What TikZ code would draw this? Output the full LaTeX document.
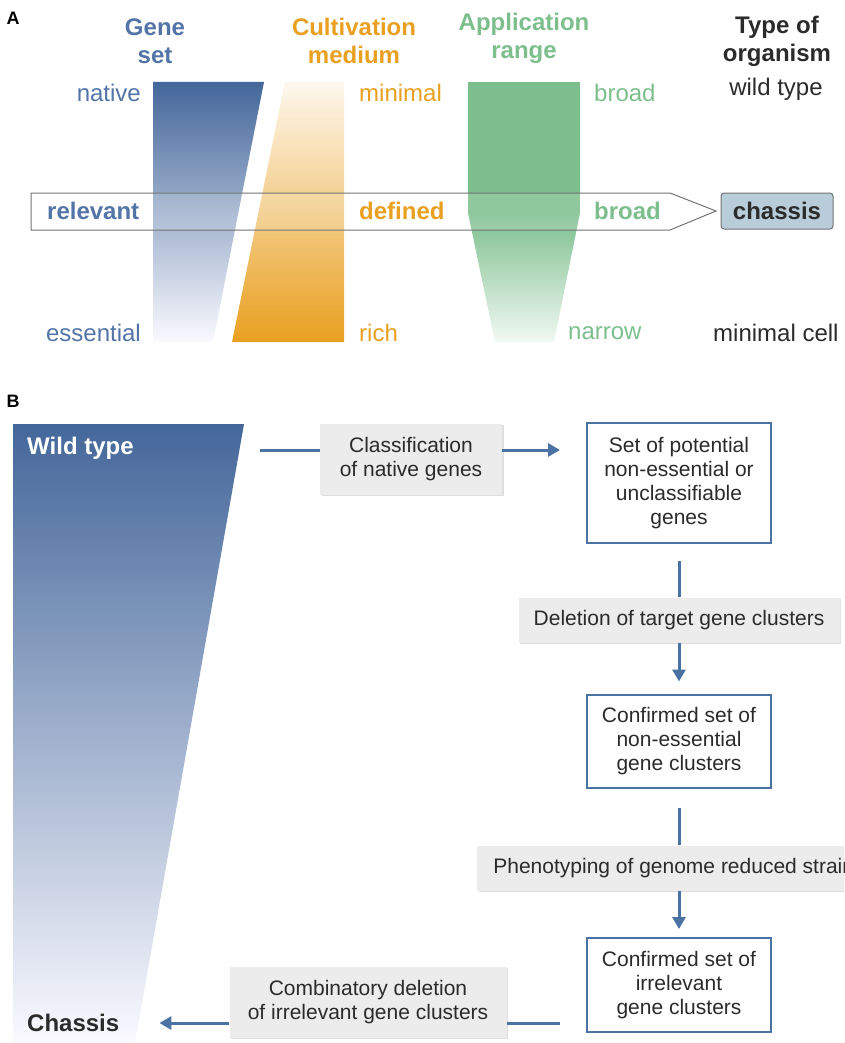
\documentclass[tikz,border=0pt]{standalone}
\usepackage{fontspec}
\setmainfont{Liberation Sans}
\usetikzlibrary{arrows.meta,shadows}
\definecolor{geneblue}{HTML}{44679A}
\definecolor{genetext}{HTML}{5274A6}
\definecolor{medorange}{HTML}{E9A020}
\definecolor{appgreen}{HTML}{7CBF8D}
\definecolor{flowblue}{HTML}{4A72A3}
\definecolor{boxgray}{HTML}{ECECEC}
\definecolor{chassisfill}{HTML}{B8CDD9}
\definecolor{inktext}{HTML}{2B2B2B}
\tikzset{>={Triangle[length=12pt,width=13pt]}}
\tikzset{
  lbl/.style={inner sep=0, font={\fontsize{24}{28}\selectfont}},
  ttl/.style={inner sep=0, align=center, font={\fontsize{24}{28}\selectfont\bfseries}},
  panel/.style={inner sep=0, font={\fontsize{18}{20}\selectfont\bfseries}},
  stepbox/.style={fill=boxgray, text=inktext, align=center, inner sep=0,
    font={\fontsize{21}{24}\selectfont},
    drop shadow={shadow xshift=1.5pt, shadow yshift=-1.5pt, fill=black!25, opacity=.5}},
  genebox/.style={draw=flowblue, line width=2pt, fill=white, text=inktext, align=center,
    inner sep=0, minimum width=184pt, font={\fontsize{21}{24}\selectfont}},
  flow/.style={draw=flowblue, line width=3pt},
}

\begin{document}
\begin{tikzpicture}[x=1pt, y=-1pt]
  \useasboundingbox (0,0) rectangle (844,1043);
  \clip (0,0) rectangle (844,1043);

  % panel A: bars
  \shade[top color=geneblue, bottom color=black!4!blue!2!white]
    (153,82) -- (264,82) -- (213,342) -- (153,342) -- cycle;
  \shade[top color=medorange!8!white, bottom color=medorange]
    (285,82) -- (344,82) -- (344,342) -- (232,342) -- cycle;
  \fill[appgreen] (468,82) rectangle (580,213);
  \shade[top color=appgreen, bottom color=appgreen!10!white]
    (468,213) -- (580,213) -- (554,342) -- (495,342) -- cycle;

  % panel A: arrow
  \draw[black!55, line width=1pt, fill=white, fill opacity=.15]
    (31,193) -- (670,193) -- (716,211) -- (670,230) -- (31,230) -- cycle;
  \node[draw=black!55, line width=1pt, fill=chassisfill, rounded corners=3pt,
    minimum width=112pt, minimum height=36pt, inner sep=0,
    font={\fontsize{24}{28}\selectfont\bfseries}, text=inktext] (chassis) at (777,211) {chassis};

  % panel A: texts
  \node[panel] (pA) at (13,18) {A};
  \node[ttl, text=genetext] (tgene) at (155,41) {Gene\\set};
  \node[ttl, text=medorange] (tmed) at (354,41) {Cultivation\\medium};
  \node[ttl, text=appgreen] (tapp) at (524,38) {Application\\range};
  \node[ttl, text=inktext] (torg) at (777,41) {Type of\\organism};
  \node[lbl, text=genetext, anchor=east] (native) at (141,93) {native};
  \node[lbl, text=genetext, anchor=east] (essential) at (141,333) {essential};
  \node[lbl, text=medorange, anchor=west] (minimal) at (359,93) {minimal};
  \node[lbl, text=medorange, anchor=west] (rich) at (359,333) {rich};
  \node[lbl, text=appgreen, anchor=west] (broadtop) at (594,93) {broad};
  \node[lbl, text=appgreen, anchor=west] (narrow) at (568,333) {narrow};
  \node[lbl, text=inktext] (wildtype) at (776,89) {wild type};
  \node[lbl, text=inktext, anchor=west] (mincell) at (713,333) {minimal cell};
  \node[lbl, text=genetext, anchor=west, font={\fontsize{24}{28}\selectfont\bfseries}] (relevant) at (47,211) {relevant};
  \node[lbl, text=medorange, anchor=west, font={\fontsize{24}{28}\selectfont\bfseries}] (defined) at (359,211) {defined};
  \node[lbl, text=appgreen, anchor=west, font={\fontsize{24}{28}\selectfont\bfseries}] (broadmid) at (594,211) {broad};

  % panel B: reduction wedge
  \node[panel] (pB) at (13,401) {B};
  \shade[top color=geneblue, bottom color=blue!2!white]
    (13,424) -- (244,424) -- (135,1043) -- (13,1043) -- cycle;
  \node[lbl, text=white, anchor=west, font={\fontsize{24}{28}\selectfont\bfseries}] (wt) at (27,448) {Wild type};
  \node[lbl, text=inktext, anchor=west, font={\fontsize{24}{28}\selectfont\bfseries}] (ch) at (27,1023) {Chassis};
  \coordinate (wtout) at (260,450);

  % panel B: steps
  \node[stepbox, minimum width=182pt, minimum height=71pt] (classify) at (411,459)
    {Classification\\of native genes};
  \node[genebox, minimum height=120pt] (potential) at (679,483)
    {Set of potential\\non-essential or\\unclassifiable\\genes};
  \node[stepbox, minimum width=321pt, minimum height=45pt] (delete) at (679,620)
    {Deletion of target gene clusters};
  \node[genebox, minimum height=93pt] (noness) at (679,741)
    {Confirmed set of\\non-essential\\gene clusters};
  \node[stepbox, minimum width=404pt, minimum height=45pt] (pheno) at (679,868)
    {Phenotyping of genome reduced strains};
  \node[genebox, minimum height=94pt] (irrel) at (679,985)
    {Confirmed set of\\irrelevant\\gene clusters};
  \node[stepbox, minimum width=277pt, minimum height=71pt] (combi) at (368,1002)
    {Combinatory deletion\\of irrelevant gene clusters};

  % panel B: connectors
  \draw[flow] (wtout) -- (wtout -| classify.west);
  \draw[flow, ->, shorten >=26pt] (wtout -| classify.east) -- (wtout -| potential.west);
  \draw[flow, shorten <=17pt] (potential.south) -- (delete.north);
  \draw[flow, ->, shorten >=12pt] (delete.south) -- (noness.north);
  \draw[flow, shorten <=19pt] (noness.south) -- (pheno.north);
  \draw[flow, ->, shorten >=8pt] (pheno.south) -- (irrel.north);
  \draw[flow, shorten <=26pt] (irrel.west |- ch) -- (combi.east |- ch);
  \draw[flow, ->, shorten >=40pt] (combi.west |- ch) -- (ch.east);
\end{tikzpicture}
\end{document}
